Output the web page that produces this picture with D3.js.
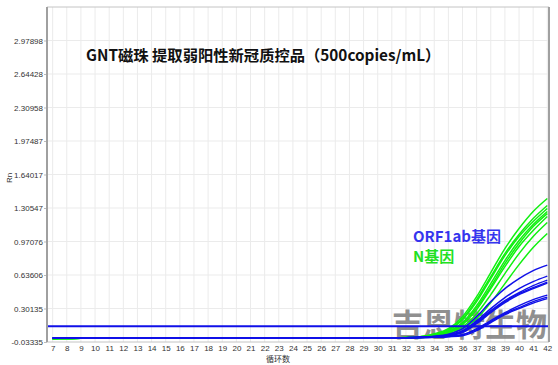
<!DOCTYPE html>
<html><head><meta charset="utf-8">
<script src="https://cdn.jsdelivr.net/npm/d3@7"></script>
<style>html,body{margin:0;padding:0;background:#fff;}svg{display:block;}</style>
</head><body>
<script>
const cycles = [7,8,9,10,11,12,13,14,15,16,17,18,19,20,21,22,23,24,25,26,27,28,29,30,31,32,33,34,35,36,37,38,39,40,41,42];
const yTickValues = [-0.03335,0.30135,0.63606,0.97076,1.30547,1.64017,1.97487,2.30958,2.64428,2.97898];
const yTickLabels = ["-0.03335","0.30135","0.63606","0.97076","1.30547","1.64017","1.97487","2.30958","2.64428","2.97898"];
const yMax = 3.31368;
const threshold = 0.125;

// N gene (green) curves, cycles 7..42
const nGene = [
 [0.000,0.002,0.004,0.005,0.005,0.005,0.005,0.005,0.005,0.005,0.005,0.005,0.005,0.005,0.005,0.005,0.005,0.004,0.005,0.005,0.005,0.005,0.005,0.006,0.008,0.012,0.02,0.05,0.10,0.22,0.42,0.66,0.90,1.10,1.27,1.40],
 [0.000,0.002,0.004,0.005,0.005,0.005,0.005,0.005,0.005,0.005,0.005,0.005,0.005,0.005,0.005,0.005,0.005,0.004,0.005,0.005,0.005,0.005,0.005,0.006,0.008,0.012,0.02,0.04,0.09,0.20,0.39,0.62,0.85,1.04,1.20,1.33],
 [0.000,0.002,0.004,0.005,0.005,0.005,0.005,0.005,0.005,0.005,0.005,0.005,0.005,0.005,0.005,0.005,0.005,0.004,0.005,0.005,0.005,0.005,0.005,0.006,0.008,0.011,0.02,0.04,0.08,0.19,0.37,0.60,0.83,1.02,1.17,1.30],
 [0.000,0.002,0.004,0.005,0.005,0.005,0.005,0.005,0.005,0.005,0.005,0.005,0.005,0.005,0.005,0.005,0.005,0.004,0.005,0.005,0.005,0.005,0.005,0.006,0.007,0.010,0.015,0.035,0.07,0.16,0.33,0.55,0.78,0.98,1.14,1.27],
 [0.000,0.002,0.004,0.005,0.005,0.005,0.005,0.005,0.005,0.005,0.005,0.005,0.005,0.005,0.005,0.005,0.005,0.004,0.005,0.005,0.005,0.005,0.005,0.006,0.007,0.010,0.015,0.035,0.07,0.15,0.31,0.52,0.75,0.95,1.12,1.25],
 [0.000,0.002,0.004,0.005,0.005,0.005,0.005,0.005,0.005,0.005,0.005,0.005,0.005,0.005,0.005,0.005,0.005,0.004,0.005,0.005,0.005,0.005,0.005,0.006,0.007,0.009,0.015,0.03,0.06,0.14,0.29,0.50,0.72,0.92,1.08,1.22],
 [0.000,0.002,0.004,0.005,0.005,0.005,0.005,0.005,0.005,0.005,0.005,0.005,0.005,0.005,0.005,0.005,0.005,0.004,0.005,0.005,0.005,0.005,0.005,0.006,0.007,0.009,0.01,0.03,0.06,0.12,0.25,0.44,0.65,0.85,1.02,1.16],
 [0.000,0.002,0.004,0.005,0.005,0.005,0.005,0.005,0.005,0.005,0.005,0.005,0.005,0.005,0.005,0.005,0.005,0.004,0.005,0.005,0.005,0.005,0.005,0.006,0.007,0.008,0.01,0.025,0.05,0.10,0.20,0.36,0.55,0.74,0.91,1.05]
];
// ORF1ab gene (blue) curves, cycles 7..42
const orf1ab = [
 [0.007,0.006,0.006,0.006,0.006,0.006,0.006,0.006,0.006,0.006,0.006,0.006,0.006,0.006,0.006,0.006,0.006,0.006,0.006,0.006,0.006,0.006,0.006,0.007,0.008,0.010,0.015,0.025,0.045,0.10,0.22,0.37,0.50,0.60,0.68,0.735],
 [0.007,0.006,0.006,0.006,0.006,0.006,0.006,0.006,0.006,0.006,0.006,0.006,0.006,0.006,0.006,0.006,0.006,0.006,0.006,0.006,0.006,0.006,0.006,0.007,0.008,0.010,0.014,0.022,0.04,0.08,0.18,0.30,0.41,0.50,0.57,0.625],
 [0.007,0.006,0.006,0.006,0.006,0.006,0.006,0.006,0.006,0.006,0.006,0.006,0.006,0.006,0.006,0.006,0.006,0.006,0.006,0.006,0.006,0.006,0.006,0.007,0.008,0.010,0.013,0.020,0.035,0.07,0.17,0.28,0.38,0.46,0.53,0.585],
 [0.007,0.006,0.006,0.006,0.006,0.006,0.006,0.006,0.006,0.006,0.006,0.006,0.006,0.006,0.006,0.006,0.006,0.006,0.006,0.006,0.006,0.006,0.006,0.007,0.008,0.010,0.013,0.020,0.035,0.07,0.16,0.27,0.37,0.45,0.51,0.565],
 [0.007,0.006,0.006,0.006,0.006,0.006,0.006,0.006,0.006,0.006,0.006,0.006,0.006,0.006,0.006,0.006,0.006,0.006,0.006,0.006,0.006,0.006,0.006,0.007,0.008,0.009,0.012,0.018,0.03,0.06,0.15,0.26,0.36,0.44,0.50,0.555],
 [0.007,0.006,0.006,0.006,0.006,0.006,0.006,0.006,0.006,0.006,0.006,0.006,0.006,0.006,0.006,0.006,0.006,0.006,0.006,0.006,0.006,0.006,0.006,0.007,0.008,0.009,0.011,0.016,0.025,0.04,0.10,0.18,0.26,0.33,0.39,0.435],
 [0.007,0.006,0.006,0.006,0.006,0.006,0.006,0.006,0.006,0.006,0.006,0.006,0.006,0.006,0.006,0.006,0.006,0.006,0.006,0.006,0.006,0.006,0.006,0.007,0.008,0.009,0.011,0.015,0.022,0.04,0.09,0.17,0.25,0.31,0.37,0.415],
 [0.007,0.006,0.006,0.006,0.006,0.006,0.006,0.006,0.006,0.006,0.006,0.006,0.006,0.006,0.006,0.006,0.006,0.006,0.006,0.006,0.006,0.006,0.006,0.007,0.008,0.009,0.010,0.014,0.02,0.03,0.08,0.16,0.24,0.30,0.355,0.40]
];

const W = 558, H = 365;
const plot = {left:47, right:549, top:7, bottom:342};
const svg = d3.select("body").append("svg").attr("width",W).attr("height",H);

const x = d3.scaleLinear().domain([6.6, 42.12]).range([plot.left, plot.right]);
const y = d3.scaleLinear().domain([yTickValues[0], yMax]).range([plot.bottom, plot.top]);

// grid
const grid = svg.append("g");
grid.selectAll("line.v").data(cycles).join("line")
  .attr("x1", d=>x(d)).attr("x2", d=>x(d)).attr("y1", plot.top).attr("y2", plot.bottom)
  .attr("stroke","#ebebeb").attr("stroke-width",1);
grid.selectAll("line.h").data(yTickValues.slice(1)).join("line")
  .attr("x1", plot.left).attr("x2", plot.right).attr("y1", d=>y(d)).attr("y2", d=>y(d))
  .attr("stroke","#ebebeb").attr("stroke-width",1);

// watermark
svg.append("text").attr("x", 392).attr("y", 336)
  .attr("font-family","'Noto Sans CJK SC'").attr("font-weight","bold").attr("font-size",31)
  .attr("fill","#848484").attr("opacity",0.9).text("吉恩特生物");

// axes
const yAxis = d3.axisLeft(y).tickValues(yTickValues).tickFormat((d,i)=>yTickLabels[i]).tickSize(3).tickPadding(1);
const gy = svg.append("g").attr("transform",`translate(${plot.left},0)`).call(yAxis);
gy.select(".domain").remove();
gy.selectAll("line").attr("stroke","#bbb");
gy.selectAll("text").attr("font-family","'Liberation Sans', Arial, sans-serif").attr("font-size",8).attr("fill","#333");

const xAxis = d3.axisBottom(x).tickValues(cycles).tickFormat(d3.format("d")).tickSize(0).tickPadding(3);
const gx = svg.append("g").attr("transform",`translate(0,${plot.bottom})`).call(xAxis);
gx.select(".domain").remove();
gx.selectAll("text").attr("font-family","'Liberation Sans', Arial, sans-serif").attr("font-size",8).attr("fill","#333");

// curves
const line = d3.line().x((d,i)=>x(cycles[i])).y(d=>y(d)).curve(d3.curveMonotoneX);
svg.append("g").selectAll("path").data(nGene).join("path")
  .attr("d", line).attr("fill","none").attr("stroke","#10f010").attr("stroke-width",1.5);
svg.append("g").selectAll("path").data(orf1ab).join("path")
  .attr("d", line).attr("fill","none").attr("stroke","#1010e8").attr("stroke-width",1.5);

// threshold
svg.append("line").attr("x1",plot.left).attr("x2",plot.right)
  .attr("y1",y(threshold)).attr("y2",y(threshold)).attr("stroke","#1010e8").attr("stroke-width",2);

// frame
svg.append("line").attr("x1",plot.left).attr("x2",plot.right).attr("y1",plot.top).attr("y2",plot.top).attr("stroke","#c4c4c4").attr("stroke-width",1);
svg.append("line").attr("x1",plot.left).attr("x2",plot.right).attr("y1",plot.bottom).attr("y2",plot.bottom).attr("stroke","#c4c4c4").attr("stroke-width",1);
svg.append("line").attr("x1",plot.left).attr("x2",plot.left).attr("y1",plot.top).attr("y2",plot.bottom).attr("stroke","#a0a0a0").attr("stroke-width",2);
svg.append("line").attr("x1",plot.right).attr("x2",plot.right).attr("y1",plot.top).attr("y2",plot.bottom).attr("stroke","#a0a0a0").attr("stroke-width",2);

// title
svg.append("text").attr("x",86).attr("y",61)
  .attr("font-family","'Noto Sans CJK SC'").attr("font-weight","bold").attr("font-size",15.3)
  .attr("fill","#111").text("GNT磁珠 提取弱阳性新冠质控品（500copies/mL）");

// legend labels
svg.append("text").attr("x",413).attr("y",242)
  .attr("font-family","'Noto Sans CJK SC'").attr("font-weight","bold").attr("font-size",15)
  .attr("fill","#3535ee").text("ORF1ab基因");
svg.append("text").attr("x",413).attr("y",262)
  .attr("font-family","'Noto Sans CJK SC'").attr("font-weight","bold").attr("font-size",15)
  .attr("fill","#22e022").text("N基因");

// axis titles
svg.append("text").attr("transform","translate(12,178) rotate(-90)").attr("text-anchor","middle")
  .attr("font-family","'Liberation Sans', Arial, sans-serif").attr("font-size",8).attr("fill","#333").text("Rn");
svg.append("text").attr("x",278).attr("y",362).attr("text-anchor","middle")
  .attr("font-family","'Noto Sans CJK SC'").attr("font-size",8).attr("fill","#333").text("循环数");
</script>
</body></html>
